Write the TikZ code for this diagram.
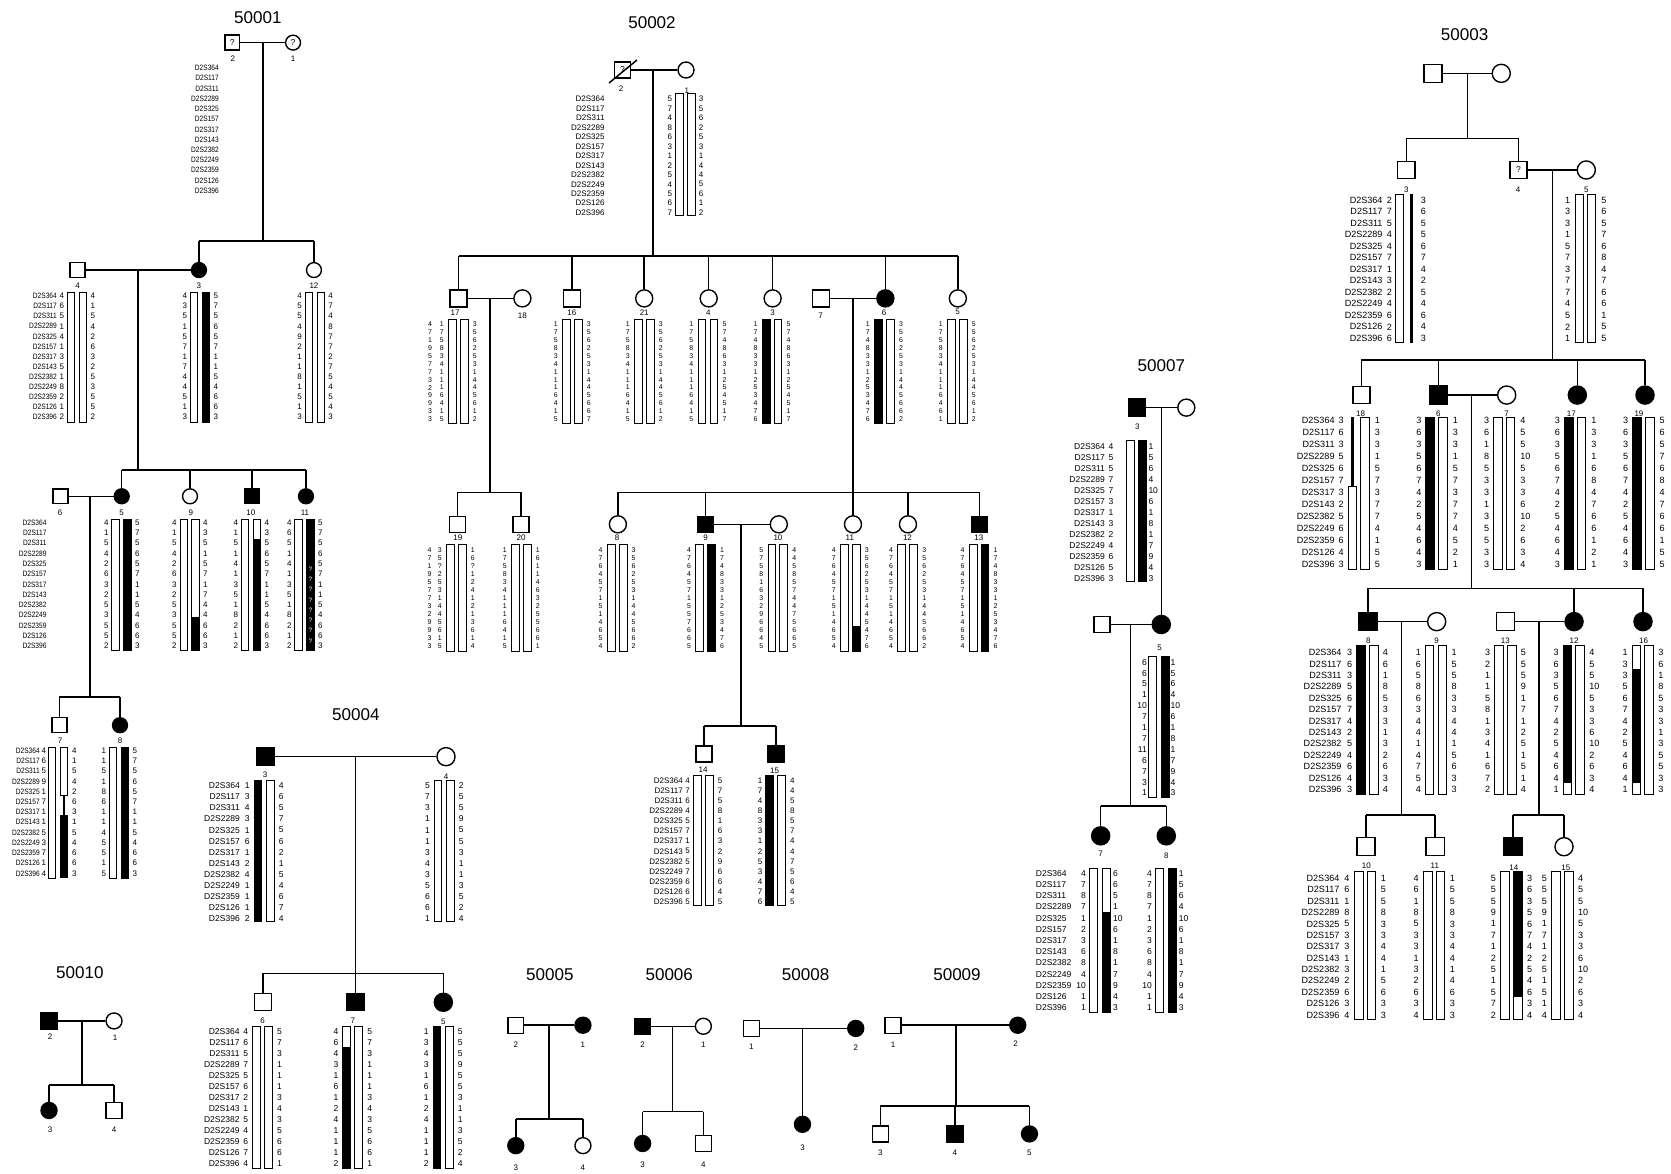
\documentclass[tikz,border=0pt]{standalone}
\usepackage{fontspec}
\setmainfont{Liberation Sans}
\newfontfamily\condf[FakeStretch=0.85]{Liberation Sans}
\tikzset{
 ln/.style={line width=1.4pt},
 sqs/.style={draw,line width=1.3pt,rectangle,minimum size=15pt,inner sep=0pt,font=\fontsize{8}{9}\selectfont},
 cis/.style={draw,line width=1.3pt,circle,minimum size=15pt,inner sep=0pt,font=\fontsize{8}{9}\selectfont},
 aff/.style={fill=black},
 bar/.style={draw,line width=0.85pt},
 lab/.style={font=\fontsize{7.5}{8}\selectfont,inner sep=0pt},
 ttl/.style={font=\fontsize{16}{18}\selectfont,inner sep=0pt},
 hd/.style={font=\hf,inner sep=0pt},
}
\newcommand\hf{\fontsize{7.5}{8}\selectfont}
\newcommand\mk{D2S364,D2S117,D2S311,D2S2289,D2S325,D2S157,D2S317,D2S143,D2S2382,D2S2249,D2S2359,D2S126,D2S396}
\newcommand\hcol[4]{\edef\tmpl{#4}\foreach \v [count=\i from 0] in \tmpl {\node[hd,anchor=#3] (#1-\i) at (#2,{\yA+\i*\dy}) {\v};}}
\newcommand\hind[4]{%
 \draw[bar] ({#2-\bo},\bt) rectangle ({#2-\bi},\bb);
 \draw[bar] ({#2+\bi},\bt) rectangle ({#2+\bo},\bb);
 \hcol{#1l}{{#2-\dL}}{east}{#3}%
 \hcol{#1r}{{#2+\dR}}{west}{#4}}
\newcommand\hfL[3]{\fill ({#1-\bo},#2) rectangle ({#1-\bi},#3);}
\newcommand\hfR[3]{\fill ({#1+\bi},#2) rectangle ({#1+\bo},#3);}
\newcommand\drop[2]{\draw[ln] (#1.north) -- (#1.north |- #2);}
\newcommand\sibl[3]{\draw[ln] (#2.north |- #1) -- (#3.north |- #1);}
\begin{document}
\begin{tikzpicture}[x=1pt,y=-1pt]
\useasboundingbox[fill=white] (0,0) rectangle (1568,1101);
%%%%%%%%%%%%%%%% 50001
\node[ttl] (T1) at (242,17) {50001};
\node[sqs,minimum size=14pt] (a2) at (218,40) {?};
\node[cis,minimum size=14pt] (a1) at (275,40) {?};
\node[lab] (a2n) at (218.6,55.4) {2};
\node[lab] (a1n) at (275,55.4) {1};
\draw[ln] (a2) -- (a1);
\coordinate (am1) at (247,40); \coordinate (as1) at (247,226);
\draw[ln] (am1) -- (as1);
\def\hf{\condf\fontsize{7.3}{7.5}\selectfont}
\def\yA{63.8}\def\dy{9.6}
\hcol{amk}{205.5}{east}{\mk}
% gen2
\node[sqs,minimum size=14pt] (a4) at (72.7,253.4) {};
\node[cis,aff,minimum size=14pt] (a3) at (186.7,253.4) {};
\node[cis,minimum size=14pt] (a12) at (294.6,253.4) {};
\sibl{as1}{a3}{a12}\drop{a3}{as1}\drop{a12}{as1}
\draw[ln] (a4) -- (a3);
\coordinate (am2) at (129.5,253.4); \coordinate (as2) at (129.5,441);
\draw[ln] (am2) -- (as2);
\node[lab] (a4n) at (72.7,268.4) {4};
\node[lab] (a3n) at (186.7,268.4) {3};
\node[lab] (a12n) at (294.6,268.4) {12};
\def\yA{277.8}\def\dy{9.46}\def\bt{274}\def\bb{396}\def\bi{2}\def\bo{9}\def\dL{12}\def\dR{12.5}
\def\hf{\condf\fontsize{7.3}{7.5}\selectfont}
\hcol{a4m}{53.5}{east}{\mk}
\def\hf{\fontsize{7.5}{8}\selectfont}
\hind{a4h}{72.25}{4,6,5,1,4,1,3,5,1,8,2,1,2}{4,1,5,4,2,6,3,2,5,3,5,5,2}
\hind{a3h}{187.65}{4,3,5,1,5,7,1,7,4,4,5,1,3}{5,7,5,6,5,7,1,1,5,4,6,6,3}
\hfR{187.65}{\bt}{\bb}
\hind{a12h}{295.5}{4,5,5,4,9,2,1,1,8,1,5,1,3}{4,7,4,8,7,7,2,7,5,4,5,4,3}
% gen3
\node[sqs,minimum size=14pt] (a6) at (56.8,465.7) {};
\node[cis,aff,minimum size=14pt] (a5) at (114.2,465.7) {};
\node[cis,minimum size=14pt] (a9) at (178.3,465.7) {};
\node[sqs,aff,minimum size=14pt] (a10) at (236.5,465.7) {};
\node[cis,aff,minimum size=14pt] (a11) at (287.1,465.7) {};
\sibl{as2}{a5}{a11}\drop{a5}{as2}\drop{a9}{as2}\drop{a10}{as2}\drop{a11}{as2}
\draw[ln] (a6) -- (a5);
\coordinate (am3) at (84.5,465.7); \coordinate (as3) at (84.5,654);
\draw[ln] (am3) -- (as3);
\node[lab] (a6n) at (56.5,481.4) {6};
\node[lab] (a5n) at (114,481.4) {5};
\node[lab] (a9n) at (179,481.4) {9};
\node[lab] (a10n) at (235.3,481.4) {10};
\node[lab] (a11n) at (286.2,481.4) {11};
\def\yA{490.5}\def\dy{9.64}\def\bt{487}\def\bb{610}
\def\hf{\condf\fontsize{7.3}{7.5}\selectfont}
\hcol{a6m}{43.8}{east}{\mk}
\def\hf{\fontsize{7.5}{8}\selectfont}
\hind{a5h}{114}{4,1,5,4,2,6,3,2,5,3,5,5,2}{5,7,5,6,5,7,1,1,5,4,6,6,3}
\hfR{114}{\bt}{\bb}
\hind{a9h}{177.9}{4,1,5,4,2,6,3,2,5,3,5,5,2}{4,3,5,1,5,7,1,7,4,4,6,6,3}
\hfR{177.9}{579.3}{\bb}
\hind{a10h}{235.5}{4,1,5,1,4,1,3,5,1,8,2,1,2}{4,3,5,6,5,7,1,1,5,4,6,6,3}
\hfR{235.5}{505.8}{\bb}
\hind{a11h}{285.7}{4,6,5,1,4,1,3,5,1,8,2,1,2}{5,7,5,6,5,7,1,1,5,4,6,6,3}
\hfR{285.7}{\bt}{\bb}
\foreach \k in {4,...,11} {\node[inner sep=0pt,text=white,font=\fontsize{6}{6}\selectfont] (aq\k) at (291.2,{\yA+(\k+0.5)*\dy}) {?};}
% gen4
\node[sqs,minimum size=14pt] (a7) at (55.8,680.5) {};
\node[cis,aff,minimum size=14pt] (a8) at (112.6,680.5) {};
\sibl{as3}{a7}{a8}\drop{a7}{as3}\drop{a8}{as3}
\node[lab] (a7n) at (56.5,695.3) {7};
\node[lab] (a8n) at (112.6,695.3) {8};
\def\yA{704.4}\def\dy{9.59}\def\bt{701}\def\bb{824}\def\dL{11}\def\dR{13}
\def\hf{\condf\fontsize{7.3}{7.5}\selectfont}
\hcol{a7m}{37.5}{east}{\mk}
\def\hf{\fontsize{7.5}{8}\selectfont}
\draw[bar] ({54.4-\bo},\bt) rectangle ({54.4-\bi},\bb);
\draw[bar] ({54.4+\bi},\bt) rectangle ({54.4+\bo},746);
\draw[line width=1.3pt] (59.9,746) -- (59.9,765);
\fill ({54.4+\bi},765) rectangle ({54.4+\bo},\bb);
\hcol{a7hl}{{54.4-\dL}}{east}{4,6,5,9,1,7,1,1,5,3,7,1,4}
\hcol{a7hr}{{54.4+\dR}}{west}{4,1,5,4,2,6,3,1,5,4,6,6,3}
\def\dL{12}\def\dR{12.5}
\hind{a8h}{111.7}{1,1,5,1,8,6,1,1,4,5,5,1,5}{5,7,5,6,5,7,1,1,5,4,6,6,3}
\hfR{111.7}{\bt}{\bb}
%%%%%%%%%%%%%%%% 50004
\node[ttl] (T4) at (334,671) {50004};
\node[sqs,aff,minimum size=16pt] (d3) at (249,710) {};
\node[cis,minimum size=17pt] (d4) at (418.5,710) {};
\draw[ln] (d3) -- (d4);
\coordinate (dm1) at (333.5,710); \coordinate (ds1) at (333.5,913.3);
\draw[ln] (dm1) -- (ds1);
\node[lab] (d3n) at (248.7,727.2) {3};
\node[lab] (d4n) at (418.5,728.5) {4};
\def\hf{\fontsize{8}{9}\selectfont}
\def\yA{737.5}\def\dy{10.35}\def\bt{731.9}\def\bb{864.9}\def\bi{2.1}\def\bo{9.4}\def\dL{13.2}\def\dR{13.7}
\hcol{d3m}{225.2}{east}{\mk}
\hind{d3h}{247.7}{1,3,4,3,1,6,1,2,4,1,1,1,2}{4,6,5,7,5,6,2,1,5,4,6,7,4}
\hfL{247.7}{\bt}{\bb}
\hind{d4h}{416.8}{5,7,3,1,1,1,3,4,3,5,6,6,1}{2,5,5,9,5,5,3,1,1,3,5,2,4}
\node[sqs,minimum size=16pt] (d6) at (247,940) {};
\node[sqs,aff,minimum size=16pt] (d7) at (333.5,940) {};
\node[cis,aff,minimum size=17pt] (d5) at (416,940.5) {};
\sibl{ds1}{d6}{d5}\drop{d6}{ds1}\drop{d7}{ds1}\drop{d5}{ds1}
\node[lab] (d6n) at (246.5,957.7) {6};
\node[lab] (d7n) at (331,957.7) {7};
\node[lab] (d5n) at (416,959) {5};
\def\yA{968}\def\bt{963.4}\def\bb{1096.3}
\hcol{d6m}{225}{east}{\mk}
\hind{d6h}{246.2}{4,6,5,7,5,6,2,1,5,4,6,7,4}{5,7,3,1,1,1,3,4,3,5,6,6,1}
\hind{d7h}{330.9}{4,6,4,3,1,6,1,2,4,1,1,1,2}{5,7,3,1,1,1,3,4,3,5,6,6,1}
\hfL{330.9}{982.8}{\bb}
\hind{d5h}{415.7}{1,3,4,3,1,6,1,2,4,1,1,1,2}{5,5,5,9,5,5,3,1,1,3,5,2,4}
\hfL{415.7}{\bt}{\bb}
%%%%%%%%%%%%%%%% 50002
\node[ttl] (T2) at (611.8,21.6) {50002};
\node[sqs,minimum size=15pt] (b2) at (584.1,65.7) {?};
\draw[ln] ([shift={(-12.6,12.2)}]b2.center) -- ([shift={(13.6,-9.4)}]b2.center);
\node[cis,minimum size=15pt] (b1) at (643.7,65.7) {};
\draw[ln] (b2) -- (b1);
\coordinate (bm1) at (612.7,65.7); \coordinate (bs1) at (612.7,240);
\draw[ln] (bm1) -- (bs1);
\node[lab] (b2n) at (582.7,83.5) {2};
\node[lab] (b1n) at (644.6,85.4) {1};
\def\hf{\fontsize{7.5}{8}\selectfont}
\def\yA{92.9}\def\dy{8.89}\def\bt{87.3}\def\bb{201.7}\def\bi{1.9}\def\bo{9}\def\dL{12.4}\def\dR{12.4}
\hcol{b1m}{567.4}{east}{\mk}
\hind{b1h}{643.25}{5,7,4,8,6,3,1,2,5,4,5,6,7}{3,5,6,2,5,3,1,4,4,5,6,1,2}
% gen2
\node[sqs,minimum size=16pt] (b17) at (430.3,280) {};
\node[cis,minimum size=16pt] (b18) at (490.2,280) {};
\node[sqs,minimum size=16pt] (b16) at (536.7,280) {};
\node[cis,minimum size=16pt] (b21) at (604.5,280) {};
\node[cis,minimum size=16pt] (b4) at (665,280) {};
\node[cis,minimum size=16pt] (b3) at (725,280) {};
\node[sqs,minimum size=16pt] (b7) at (770.4,280) {};
\node[cis,aff,minimum size=16pt] (b6) at (830.8,280) {};
\node[cis,minimum size=16pt] (b5) at (898.8,280) {};
\sibl{bs1}{b17}{b5}\drop{b17}{bs1}\drop{b16}{bs1}\drop{b21}{bs1}\drop{b4}{bs1}\drop{b3}{bs1}\drop{b6}{bs1}\drop{b5}{bs1}
\draw[ln] (b17) -- (b18); \draw[ln] (b7) -- (b6);
\coordinate (bm2) at (459.8,280); \coordinate (bs2) at (459.8,462);
\coordinate (bm3) at (800.4,280); \coordinate (bs3) at (800.4,462);
\draw[ln] (bm2) -- (bs2); \draw[ln] (bm3) -- (bs3);
\node[lab] (b17n) at (427.1,293) {17};
\node[lab] (b18n) at (490.2,296) {18};
\node[lab] (b16n) at (536.6,293) {16};
\node[lab] (b21n) at (604.5,293) {21};
\node[lab] (b4n) at (664.7,293) {4};
\node[lab] (b3n) at (724.9,293) {3};
\node[lab] (b7n) at (770,296) {7};
\node[lab] (b6n) at (829.7,293) {6};
\node[lab] (b5n) at (898.6,293) {5};
\def\hf{\fontsize{6.5}{7}\selectfont}
\def\yA{304.5}\def\dy{7.4}\def\bt{300}\def\bb{397.5}\def\bi{1.9}\def\bo{9.2}\def\dL{13.5}\def\dR{13.5}
\hcol{b17g}{403.5}{center}{4,7,1,9,5,7,7,3,2,9,9,3,3}
\hind{b17h}{430.1}{1,7,5,8,3,4,1,1,1,6,4,1,5}{3,5,6,2,5,3,1,4,4,5,6,1,2}
\hind{b16h}{537}{1,7,5,8,3,4,1,1,1,6,4,1,5}{3,5,6,2,5,3,1,4,4,5,6,6,7}
\hind{b21h}{604.5}{1,7,5,8,3,4,1,1,1,6,4,1,5}{3,5,6,2,5,3,1,4,4,5,6,1,2}
\hind{b4h}{664.3}{1,7,5,8,3,4,1,1,1,6,4,1,5}{5,7,4,8,6,3,1,2,5,4,5,1,7}
\hind{b3h}{724.5}{1,7,4,8,3,3,1,2,5,3,4,7,6}{5,7,4,8,6,3,1,2,5,4,5,1,7}
\hfL{724.5}{\bt}{\bb}
\hind{b6h}{829.9}{1,7,4,8,3,3,1,2,5,3,4,7,6}{3,5,6,2,5,3,1,4,4,5,6,6,2}
\hfL{829.9}{\bt}{\bb}
\hind{b5h}{898.2}{1,7,5,8,3,4,1,1,1,6,4,6,1}{5,5,6,2,5,3,1,4,4,5,6,1,2}
% gen3
\node[sqs,minimum size=15pt] (b19) at (429.2,492) {};
\node[sqs,minimum size=15pt] (b20) at (489,492) {};
\sibl{bs2}{b19}{b20}\drop{b19}{bs2}\drop{b20}{bs2}
\node[cis,minimum size=16pt] (b8) at (579.8,492) {};
\node[sqs,aff,minimum size=15pt] (b9) at (662,492) {};
\node[cis,minimum size=16pt] (b10) at (730.8,492) {};
\node[cis,minimum size=16pt] (b11) at (800.4,492) {};
\node[cis,minimum size=16pt] (b12) at (852,492) {};
\node[sqs,aff,minimum size=15pt] (b13) at (919,492) {};
\sibl{bs3}{b8}{b13}\drop{b8}{bs3}\drop{b9}{bs3}\drop{b11}{bs3}\drop{b12}{bs3}\drop{b13}{bs3}
\draw[ln] (b9) -- (b10);
\coordinate (bm4) at (695.3,492); \coordinate (bs4) at (695.3,681.2);
\draw[ln] (bm4) -- (bs4);
\node[lab] (b19n) at (429.6,505) {19};
\node[lab] (b20n) at (489,505) {20};
\node[lab] (b8n) at (579,505) {8};
\node[lab] (b9n) at (662,505) {9};
\node[lab] (b10n) at (730,505) {10};
\node[lab] (b11n) at (797.5,505) {11};
\node[lab] (b12n) at (851.5,505) {12};
\node[lab] (b13n) at (918.5,505) {13};
\def\yA{516}\def\dy{7.5}\def\bt{511}\def\bb{611}
\hcol{b19g}{403}{center}{4,7,1,9,5,7,7,3,2,9,9,3,3}
\hind{b19h}{428.1}{3,5,?,2,5,3,1,4,4,5,6,1,5}{1,6,?,1,2,4,1,2,1,3,6,1,4}
\hind{b20h}{489.2}{1,7,5,8,3,4,1,1,1,6,4,1,5}{1,6,1,1,4,6,3,2,5,5,6,6,1}
\hind{b8h}{579.1}{4,7,6,4,5,7,1,5,1,4,6,5,4}{3,5,6,2,5,3,1,4,4,5,6,6,2}
\hind{b9h}{662}{4,7,6,4,5,7,1,5,5,7,6,6,5}{1,7,4,8,3,3,1,2,5,3,4,7,6}
\hfR{662}{\bt}{\bb}
\hind{b10h}{729.9}{5,7,5,8,1,6,3,2,9,6,6,4,5}{4,4,5,8,5,7,4,4,7,5,6,6,5}
\hind{b11h}{797.8}{4,7,6,4,5,7,1,5,1,4,6,5,4}{3,5,6,2,5,3,1,4,4,5,4,7,6}
\hfR{797.8}{587.3}{\bb}
\hind{b12h}{851.7}{4,7,6,4,5,7,1,5,1,4,6,5,4}{3,5,6,2,5,3,1,4,4,5,6,6,2}
\hind{b13h}{918.7}{4,7,6,4,5,7,1,5,1,4,6,5,4}{1,7,4,8,3,3,1,2,5,3,4,7,6}
\hfR{918.7}{\bt}{\bb}
% gen4
\node[sqs,minimum size=15pt] (b14) at (660.7,707.4) {};
\node[sqs,aff,minimum size=15pt] (b15) at (728,707.4) {};
\sibl{bs4}{b14}{b15}\drop{b14}{bs4}\drop{b15}{bs4}
\node[lab] (b14n) at (659.7,722) {14};
\node[lab] (b15n) at (726.9,723) {15};
\def\hf{\fontsize{7.5}{8}\selectfont}
\def\yA{732.5}\def\dy{9.47}\def\bt{727.2}\def\bb{849.2}\def\dL{12.2}\def\dR{13.5}
\hcol{b14m}{640.9}{east}{\mk}
\hind{b14h}{659.8}{4,7,6,4,5,7,1,5,5,7,6,6,5}{5,7,5,8,1,6,3,2,9,6,6,4,5}
\hind{b15h}{727.8}{1,7,4,8,3,3,1,2,5,3,4,7,6}{4,4,5,8,5,7,4,4,7,5,6,4,5}
\hfL{727.8}{\bt}{\bb}
%%%%%%%%%%%%%%%% 50007
\node[ttl] (T7) at (1089.7,343.5) {50007};
\node[sqs,aff,minimum size=16pt] (g3) at (1067.1,382.5) {};
\node[cis,minimum size=16pt] (g0) at (1113.2,382.5) {};
\draw[ln] (g3) -- (g0);
\node[lab] (g3n) at (1067.2,400.8) {3};
\def\hf{\fontsize{8}{9}\selectfont}
\def\yA{418.9}\def\dy{10.3}\def\bt{413.3}\def\bb{546}\def\bi{2}\def\bo{9.5}\def\dL{21.5}\def\dR{11}
\hcol{g3m}{1037}{east}{\mk}
\hind{g3h}{1066.5}{4,5,5,7,7,3,1,3,2,4,6,5,3}{1,5,6,4,10,6,1,8,1,7,9,4,3}
\hfR{1066.5}{\bt}{\bb}
\node[sqs,minimum size=15pt] (g6) at (1034.2,586) {};
\node[cis,aff,minimum size=17pt] (g5) at (1089.7,586) {};
\coordinate (gm1) at (1089.7,382.5);
\draw[ln] (gm1) -- (g5.north);
\draw[ln] (g6) -- (g5);
\coordinate (gm2) at (1061,586); \coordinate (gs2) at (1061,756.2);
\draw[ln] (gm2) -- (gs2);
\node[lab] (g5n) at (1088.2,607.6) {5};
\def\yA{621.4}\def\dy{10.23}\def\bt{616.2}\def\bb{748.4}\def\dL{11.3}\def\dR{10.6}
\hind{g5h}{1087.6}{6,6,5,1,10,7,1,7,11,6,7,3,1}{1,5,6,4,10,6,1,8,1,7,9,4,3}
\hfR{1087.6}{\bt}{\bb}
\node[cis,aff,minimum size=17pt] (g7) at (1032.8,784.3) {};
\node[cis,aff,minimum size=17pt] (g8) at (1094.4,784.3) {};
\sibl{gs2}{g7}{g8}\drop{g7}{gs2}\drop{g8}{gs2}
\node[lab] (g7n) at (1032.8,801.4) {7};
\node[lab] (g8n) at (1094.4,803) {8};
\def\yA{819.6}\def\dy{10.5}\def\bt{815.3}\def\bb{950.1}\def\dL{13}\def\dR{12}
\hcol{g7m}{971.8}{west}{\mk}
\hind{g7h}{1032.2}{4,7,8,7,1,2,3,6,8,4,10,1,1}{6,6,5,1,10,6,1,8,1,7,9,4,3}
\hfR{1032.2}{856.2}{\bb}
\hind{g8h}{1094.1}{4,7,8,7,1,2,3,6,8,4,10,1,1}{1,5,6,4,10,6,1,8,1,7,9,4,3}
\hfR{1094.1}{\bt}{\bb}
%%%%%%%%%%%%%%%% 50003
\node[ttl] (T3) at (1374.4,32.8) {50003};
\node[sqs,minimum size=17pt] (cF) at (1344.6,68.8) {};
\node[cis,minimum size=17pt] (cM) at (1408.7,68.8) {};
\draw[ln] (cF) -- (cM);
\coordinate (cm1) at (1376.8,68.8); \coordinate (cs1) at (1376.8,129.8);
\draw[ln] (cm1) -- (cs1);
\node[sqs,minimum size=16pt] (c3) at (1319.6,159.5) {};
\node[sqs,minimum size=16pt] (c4) at (1424.9,159.5) {?};
\node[cis,minimum size=17pt] (c5) at (1488.5,159.5) {};
\sibl{cs1}{c3}{c4}\drop{c3}{cs1}\drop{c4}{cs1}
\draw[ln] (c4) -- (c5);
\coordinate (cm2) at (1456.6,159.5); \coordinate (cs2) at (1456.6,338);
\draw[ln] (cm2) -- (cs2);
\node[lab] (c3n) at (1319.6,178.5) {3};
\node[lab] (c4n) at (1424.6,178.5) {4};
\node[lab] (c5n) at (1488.5,178.5) {5};
\def\hf{\fontsize{8.5}{9}\selectfont}
\def\yA{187.7}\def\dy{10.82}\def\bt{182}\def\bb{321.5}\def\bi{1.6}\def\bo{9.5}\def\dL{12.2}\def\dR{14.5}
\hcol{c3m}{1297.5}{east}{\mk}
\draw[bar] ({1318.5-\bo},\bt) rectangle ({1318.5-\bi},\bb);
\draw[line width=2.4pt] (1324.3,\bt) -- (1324.3,\bb);
\hcol{c3hl}{{1318.5-\dL}}{east}{2,7,5,4,4,7,1,3,2,4,6,2,6}
\hcol{c3hr}{{1318.5+\dR}}{west}{3,6,5,5,6,7,4,2,5,4,6,4,3}
\def\dL{14.2}\def\dR{14.7}
\hind{c5h}{1487.8}{1,3,3,1,5,7,3,7,7,4,5,2,1}{5,6,5,7,6,8,4,7,6,6,1,5,5}
% gen3
\node[sqs,minimum size=16pt] (c18) at (1277.5,370.7) {};
\node[sqs,aff,minimum size=17pt] (c6) at (1349.8,370.7) {};
\node[cis,minimum size=17pt] (c7) at (1413.8,370.7) {};
\node[cis,aff,minimum size=17pt] (c17) at (1480.1,370.7) {};
\node[cis,aff,minimum size=17pt] (c19) at (1543.6,370.7) {};
\sibl{cs2}{c18}{c19}\drop{c18}{cs2}\drop{c6}{cs2}\drop{c17}{cs2}\drop{c19}{cs2}
\draw[ln] (c6) -- (c7);
\coordinate (cm3) at (1380.9,370.7); \coordinate (cs3) at (1380.9,552);
\draw[ln] (cm3) -- (cs3);
\node[lab] (c18n) at (1276.8,388) {18};
\node[lab] (c6n) at (1349.6,388) {6};
\node[lab] (c7n) at (1413.6,388) {7};
\node[lab] (c17n) at (1474.4,388) {17};
\node[lab] (c19n) at (1537.9,388) {19};
\def\yA{394.8}\def\dy{11.22}\def\bt{391.6}\def\bb{533.9}\def\bi{2}\def\bo{10}\def\dL{14}\def\dR{15}
\hcol{c18m}{1252.5}{east}{\mk}
\draw[line width=2.6pt] (1269.2,\bt) -- (1269.2,456.7);
\draw[bar] ({1275-\bo},456.7) rectangle ({1275-\bi},\bb);
\draw[bar] ({1275+\bi},\bt) rectangle ({1275+\bo},\bb);
\hcol{c18hl}{{1275-\dL}}{east}{3,6,3,5,6,7,3,2,5,6,6,4,3}
\hcol{c18hr}{{1275+\dR}}{west}{1,3,3,1,5,7,3,7,7,4,1,5,5}
\hind{c6h}{1348}{3,6,3,5,6,7,4,2,5,4,6,4,3}{1,3,3,1,5,7,3,7,7,4,5,2,1}
\hfL{1348}{\bt}{\bb}
\hind{c7h}{1411.5}{3,6,1,8,5,3,3,1,3,5,5,3,3}{4,5,5,10,5,3,3,6,10,2,6,3,4}
\hind{c17h}{1478}{3,6,3,5,6,7,4,2,5,4,6,4,3}{1,3,3,1,6,8,4,7,6,6,1,2,1}
\hfL{1478}{\bt}{\bb}
\hind{c19h}{1542}{3,6,3,5,6,7,4,2,5,4,6,4,3}{5,6,5,7,6,8,4,7,6,6,1,5,5}
\hfL{1542}{\bt}{\bb}
% gen4
\node[sqs,aff,minimum size=17pt] (c8) at (1283.5,583.3) {};
\node[cis,minimum size=17pt] (c9) at (1348.1,583.3) {};
\node[sqs,minimum size=17pt] (c13) at (1412.9,583.3) {};
\node[cis,aff,minimum size=17pt] (c12) at (1477,583.3) {};
\node[cis,aff,minimum size=17pt] (c16) at (1541.7,583.3) {};
\sibl{cs3}{c8}{c16}\drop{c8}{cs3}\drop{c12}{cs3}\drop{c16}{cs3}
\draw[ln] (c8) -- (c9); \draw[ln] (c13) -- (c12);
\coordinate (cm4) at (1315.3,583.3); \coordinate (cs4) at (1315.3,764.8);
\coordinate (cm5) at (1444.1,583.3); \coordinate (cs5) at (1444.1,764.8);
\draw[ln] (cm4) -- (cs4); \draw[ln] (cm5) -- (cs5);
\node[lab] (c8n) at (1284,601.5) {8};
\node[lab] (c9n) at (1348,601.5) {9};
\node[lab] (c13n) at (1412.5,601.5) {13};
\node[lab] (c12n) at (1477,601.5) {12};
\node[lab] (c16n) at (1542.3,601.5) {16};
\def\yA{612.4}\def\dy{10.69}\def\bt{605.9}\def\bb{745.4}\def\dL{14}\def\dR{14.5}
\hcol{c8m}{1259}{east}{\mk}
\hind{c8h}{1283}{3,6,3,5,6,7,4,2,5,4,6,4,3}{4,6,1,8,5,3,3,1,3,2,6,3,4}
\hfL{1283}{\bt}{\bb}
\hind{c9h}{1347.5}{1,6,5,8,6,3,4,4,1,4,7,5,4}{1,5,5,8,3,3,4,4,1,5,6,3,3}
\hind{c13h}{1412.5}{3,2,1,1,5,8,1,3,4,1,6,7,2}{5,5,5,9,1,7,1,2,5,1,5,1,4}
\hind{c12h}{1476.7}{3,6,3,5,6,7,4,2,5,4,6,4,1}{4,5,5,10,5,3,3,6,10,2,6,3,4}
\hfL{1476.7}{\bt}{735}
\hind{c16h}{1541.4}{1,3,3,5,6,7,4,2,5,4,6,4,1}{3,6,1,8,5,3,3,1,3,5,5,3,3}
\hfL{1541.4}{627.8}{735}
% gen5
\node[sqs,minimum size=17pt] (c10) at (1281.9,794.5) {};
\node[sqs,minimum size=17pt] (c11) at (1346.7,794.5) {};
\node[sqs,aff,minimum size=17pt] (c14) at (1419.5,794.5) {};
\node[cis,minimum size=17pt] (c15) at (1467.6,794.5) {};
\sibl{cs4}{c10}{c11}\drop{c10}{cs4}\drop{c11}{cs4}
\sibl{cs5}{c14}{c15}\drop{c14}{cs5}\drop{c15}{cs5}
\node[lab] (c10n) at (1282.1,812.6) {10};
\node[lab] (c11n) at (1346.4,812.6) {11};
\node[lab] (c14n) at (1420.5,814) {14};
\node[lab] (c15n) at (1469.3,814) {15};
\def\yA{824.2}\def\dy{10.68}\def\bt{817.9}\def\bb{956.5}\def\dL{14.5}\def\dR{14.5}
\hcol{c10m}{1257}{east}{\mk}
\hind{c10h}{1281}{4,6,1,8,5,3,3,1,3,2,6,3,4}{1,5,5,8,3,3,4,4,1,5,6,3,3}
\hind{c11h}{1345.8}{4,6,1,8,5,3,3,1,3,2,6,3,4}{1,5,5,8,3,3,4,4,1,4,6,3,3}
\hind{c14h}{1418.3}{5,5,5,9,1,7,1,2,5,1,5,7,2}{3,6,3,5,6,7,4,2,5,4,6,3,4}
\hfR{1418.3}{\bt}{935.2}
\hind{c15h}{1466.2}{5,5,5,9,1,7,1,2,5,1,5,1,4}{4,5,5,10,5,3,3,6,10,2,6,3,4}
%%%%%%%%%%%%%%%% 50010
\node[ttl] (T10) at (75,913) {50010};
\node[sqs,aff] (e2) at (46,958) {};
\node[cis] (e1) at (107,958) {};
\draw[ln] (e2) -- (e1);
\node[lab] (e2n) at (47,973) {2};
\node[lab] (e1n) at (108,974) {1};
\coordinate (em) at (77,958); \coordinate (es) at (77,1018);
\draw[ln] (em) -- (es);
\node[cis,aff] (e3) at (46,1042) {};
\node[sqs] (e4) at (107,1042) {};
\sibl{es}{e3}{e4}\drop{e3}{es}\drop{e4}{es}
\node[lab] (e3n) at (47,1060) {3};
\node[lab] (e4n) at (107,1060) {4};
%%%%%%%%%%%%%%%% 50005
\node[ttl] (T5) at (516,915) {50005};
\node[sqs] (h2) at (484,962) {};
\node[cis,aff] (h1) at (547,962) {};
\draw[ln] (h2) -- (h1);
\node[lab] (h2n) at (484,980) {2};
\node[lab] (h1n) at (547,980) {1};
\coordinate (hm) at (515,962); \coordinate (hs) at (515,1050);
\draw[ln] (hm) -- (hs);
\node[cis,aff] (h3) at (484,1075) {};
\node[cis] (h4) at (547,1075) {};
\sibl{hs}{h3}{h4}\drop{h3}{hs}\drop{h4}{hs}
\node[lab] (h3n) at (484,1096) {3};
\node[lab] (h4n) at (547,1096) {4};
%%%%%%%%%%%%%%%% 50006
\node[ttl] (T6) at (628,915) {50006};
\node[sqs,aff] (k2) at (603,963) {};
\node[cis] (k1) at (660,963) {};
\draw[ln] (k2) -- (k1);
\node[lab] (k2n) at (603,980) {2};
\node[lab] (k1n) at (660,980) {1};
\coordinate (km) at (631,963); \coordinate (ks) at (631,1043);
\draw[ln] (km) -- (ks);
\node[cis,aff] (k3) at (603,1073) {};
\node[sqs] (k4) at (660,1073) {};
\sibl{ks}{k3}{k4}\drop{k3}{ks}\drop{k4}{ks}
\node[lab] (k3n) at (603,1093) {3};
\node[lab] (k4n) at (660,1093) {4};
%%%%%%%%%%%%%%%% 50008
\node[ttl] (T8) at (756,915) {50008};
\node[sqs] (m1) at (705,965) {};
\node[cis,aff] (m2) at (803,965) {};
\draw[ln] (m1) -- (m2);
\node[lab] (m1n) at (705,982) {1};
\node[lab] (m2n) at (803,983) {2};
\coordinate (mm) at (753,965);
\node[cis,aff] (m3) at (753,1055) {};
\draw[ln] (mm) -- (m3.north);
\node[lab] (m3n) at (753,1077) {3};
%%%%%%%%%%%%%%%% 50009
\node[ttl] (T9) at (898,915) {50009};
\node[sqs] (n1) at (838,962) {};
\node[cis,aff] (n2) at (955,962) {};
\draw[ln] (n1) -- (n2);
\node[lab] (n1n) at (838,980) {1};
\node[lab] (n2n) at (953,979) {2};
\coordinate (nm) at (897,962); \coordinate (ns) at (897,1038);
\draw[ln] (nm) -- (ns);
\node[sqs] (n3) at (826,1064) {};
\node[sqs,aff] (n4) at (896,1064) {};
\node[cis,aff] (n5) at (966,1064) {};
\sibl{ns}{n3}{n5}\drop{n3}{ns}\drop{n4}{ns}\drop{n5}{ns}
\node[lab] (n3n) at (826,1082) {3};
\node[lab] (n4n) at (896,1082) {4};
\node[lab] (n5n) at (966,1082) {5};
\end{tikzpicture}
\end{document}
